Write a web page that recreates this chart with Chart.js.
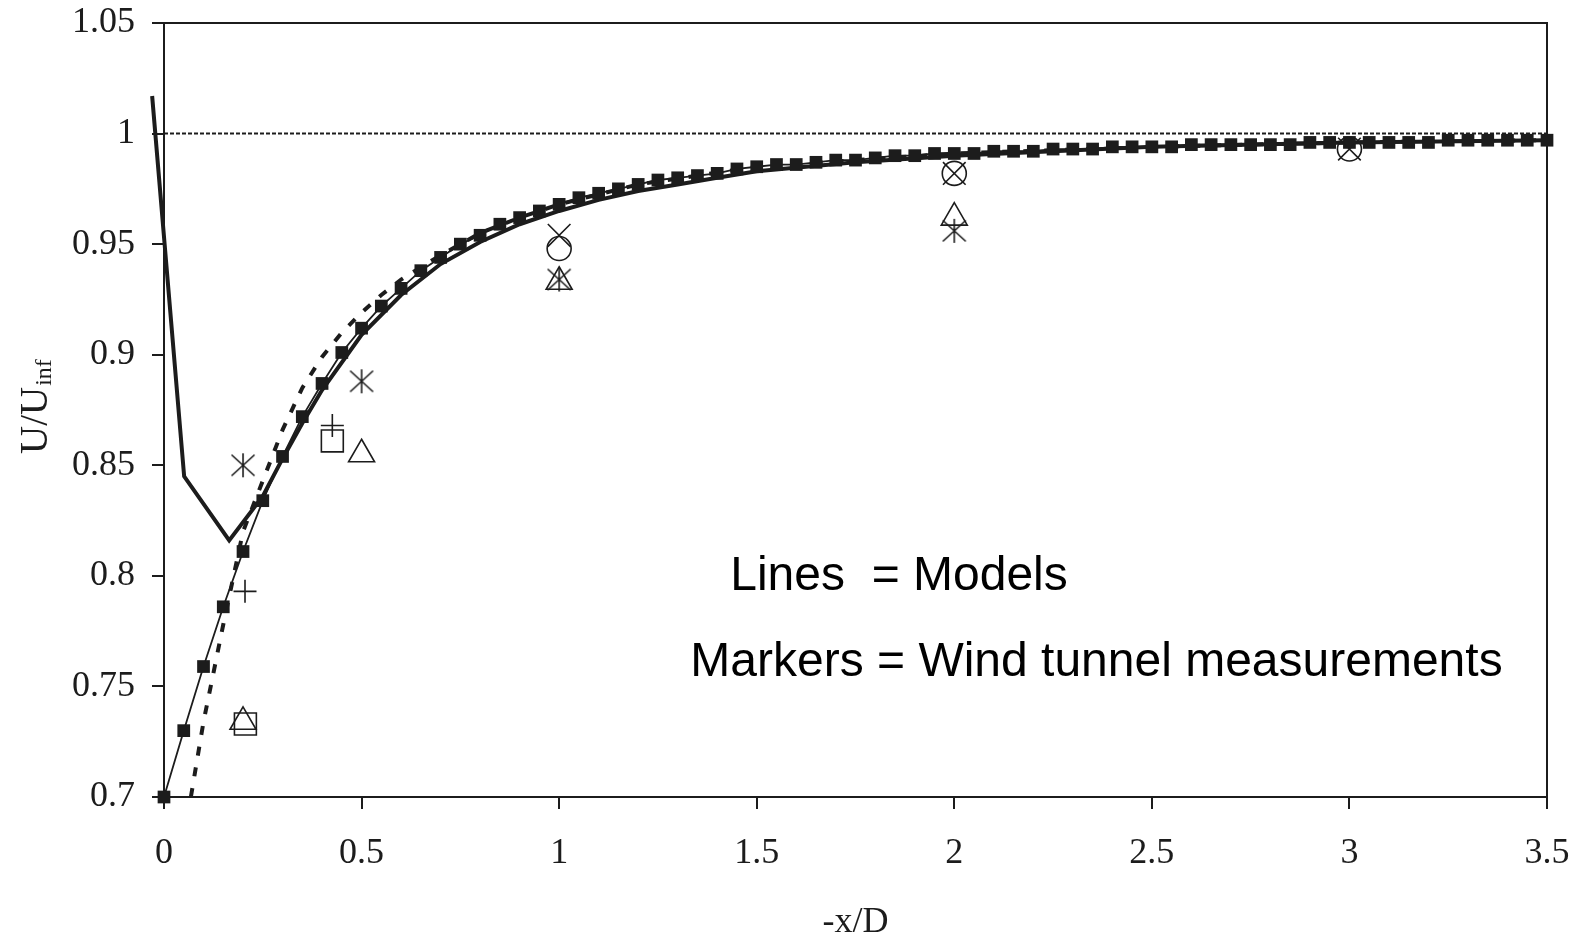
<!DOCTYPE html>
<html>
<head>
<meta charset="utf-8">
<script src="https://cdn.jsdelivr.net/npm/chart.js@4/dist/chart.umd.min.js"></script>
<style>
  html, body { margin: 0; padding: 0; background: #ffffff; }
  #wrap { width: 1579px; height: 938px; }
</style>
</head>
<body>
<div id="wrap"><canvas id="chart" width="1579" height="938"></canvas></div>
<script>
// Axis ticks
const xTickValues = [0, 0.5, 1, 1.5, 2, 2.5, 3, 3.5];
const xTickLabels = ['0', '0.5', '1', '1.5', '2', '2.5', '3', '3.5'];
const yTickValues = [0.7, 0.75, 0.8, 0.85, 0.9, 0.95, 1, 1.05];
const yTickLabels = ['0.7', '0.75', '0.8', '0.85', '0.9', '0.95', '1', '1.05'];

// Free-stream reference level
const refX = [0, 3.5];
const refY = [1, 1];

// Model with square markers (stations every 0.05 D)
const squareX = [0, 0.05, 0.1, 0.15, 0.2, 0.25, 0.3, 0.35, 0.4, 0.45, 0.5, 0.55, 0.6, 0.65, 0.7, 0.75,
  0.8, 0.85, 0.9, 0.95, 1, 1.05, 1.1, 1.15, 1.2, 1.25, 1.3, 1.35, 1.4, 1.45, 1.5, 1.55, 1.6, 1.65,
  1.7, 1.75, 1.8, 1.85, 1.9, 1.95, 2, 2.05, 2.1, 2.15, 2.2, 2.25, 2.3, 2.35, 2.4, 2.45, 2.5, 2.55,
  2.6, 2.65, 2.7, 2.75, 2.8, 2.85, 2.9, 2.95, 3, 3.05, 3.1, 3.15, 3.2, 3.25, 3.3, 3.35, 3.4, 3.45, 3.5];
const squareY = [0.700, 0.730, 0.759, 0.786, 0.811, 0.834, 0.854, 0.872, 0.887, 0.901, 0.912, 0.922, 0.930,
  0.938, 0.944, 0.950, 0.954, 0.959, 0.962, 0.965, 0.968, 0.971, 0.973, 0.975, 0.977, 0.979, 0.980, 0.981,
  0.982, 0.984, 0.985, 0.986, 0.986, 0.987, 0.988, 0.988, 0.989, 0.990, 0.990, 0.991, 0.991, 0.991, 0.992,
  0.992, 0.992, 0.993, 0.993, 0.993, 0.994, 0.994, 0.994, 0.994, 0.995, 0.995, 0.995, 0.995, 0.995, 0.995,
  0.996, 0.996, 0.996, 0.996, 0.996, 0.996, 0.996, 0.997, 0.997, 0.997, 0.997, 0.997, 0.997];

// Model drawn as a thick solid line (dips near the rotor)
const solidX = [-0.03, 0.051, 0.165, 0.25, 0.3, 0.35, 0.4, 0.5, 0.6, 0.7, 0.8, 0.9, 1, 1.1, 1.2, 1.3, 1.4,
  1.5, 1.75, 2, 2.5, 3, 3.5];
const solidY = [1.017, 0.845, 0.816, 0.836, 0.853, 0.869, 0.884, 0.909, 0.927, 0.941, 0.951, 0.959, 0.965,
  0.970, 0.974, 0.977, 0.980, 0.983, 0.987, 0.990, 0.994, 0.996, 0.997];

// Model drawn as a thick dashed line
const dashX = [0.068, 0.1, 0.15, 0.2, 0.25, 0.3, 0.35, 0.4, 0.45, 0.5, 0.55, 0.6, 0.7, 0.8, 0.9, 1, 1.2,
  1.5, 2, 2.5, 3, 3.5];
const dashY = [0.700, 0.734, 0.778, 0.820, 0.843, 0.866, 0.885, 0.899, 0.910, 0.919, 0.927, 0.934, 0.945,
  0.955, 0.962, 0.968, 0.977, 0.985, 0.991, 0.994, 0.996, 0.997];

// Wind tunnel measurements
const asteriskX = [0.2, 0.5, 1, 2];
const asteriskY = [0.850, 0.888, 0.934, 0.956];
const triangleX = [0.2, 0.5, 1, 2];
const triangleY = [0.734, 0.855, 0.933, 0.962];
const openSquareX = [0.206, 0.426];
const openSquareY = [0.733, 0.861];
const plusX = [0.205, 0.426];
const plusY = [0.793, 0.868];
const circleX = [1, 2, 3];
const circleY = [0.948, 0.982, 0.993];
const crossX = [1, 2, 3];
const crossY = [0.954, 0.982, 0.993];

const INK = '#1c1c1c';

function pts(xs, ys) { return xs.map((x, i) => ({ x: x, y: ys[i] })); }

// Six-armed asterisk marker
function asteriskMarker() {
  const c = document.createElement('canvas');
  c.width = 28; c.height = 28;
  const g = c.getContext('2d');
  g.strokeStyle = INK; g.lineWidth = 1.6; g.lineCap = 'butt';
  g.beginPath();
  g.moveTo(14, 2); g.lineTo(14, 26);
  g.moveTo(2.5, 3.5); g.lineTo(25.5, 24.5);
  g.moveTo(25.5, 3.5); g.lineTo(2.5, 24.5);
  g.stroke();
  return c;
}

// Closes the plot box on the top and right sides
const frame = {
  id: 'frame',
  afterDatasetsDraw(chart) {
    const { ctx, chartArea: a } = chart;
    ctx.save();
    ctx.strokeStyle = INK;
    ctx.lineWidth = 2;
    ctx.beginPath();
    ctx.moveTo(a.left, a.top); ctx.lineTo(a.right, a.top); ctx.lineTo(a.right, a.bottom);
    ctx.stroke();
    ctx.restore();
  }
};

// Vertical axis title with subscript
const yTitle = {
  id: 'yTitle',
  afterDraw(chart) {
    const { ctx, chartArea: a } = chart;
    ctx.save();
    ctx.fillStyle = INK;
    ctx.translate(47, (a.top + a.bottom) / 2 + 44);
    ctx.rotate(-Math.PI / 2);
    ctx.textBaseline = 'alphabetic';
    ctx.textAlign = 'left';
    ctx.font = '39px "Liberation Serif", "Times New Roman", serif';
    ctx.fillText('U/U', 0, 0);
    const w = ctx.measureText('U/U').width;
    ctx.font = '24px "Liberation Serif", "Times New Roman", serif';
    ctx.fillText('inf', w + 1, 4);
    ctx.restore();
  }
};

// Explanatory note inside the plot
const notes = {
  id: 'notes',
  afterDraw(chart) {
    const { ctx } = chart;
    const xs = chart.scales.x, ys = chart.scales.y;
    ctx.save();
    ctx.fillStyle = '#000';
    ctx.font = '48px "Liberation Sans", Arial, sans-serif';
    ctx.textBaseline = 'alphabetic';
    ctx.textAlign = 'left';
    ctx.fillText('Lines  = Models', xs.getPixelForValue(1.433), ys.getPixelForValue(0.7935));
    ctx.fillText('Markers = Wind tunnel measurements', xs.getPixelForValue(1.332), ys.getPixelForValue(0.7545));
    ctx.restore();
  }
};

function noOverhang(s) {
  s.paddingTop = 0; s.paddingBottom = 0; s.paddingLeft = 0; s.paddingRight = 0;
}

const tickFont = { family: '"Liberation Serif", "Times New Roman", serif', size: 36 };

new Chart(document.getElementById('chart'), {
  type: 'scatter',
  data: {
    datasets: [
      { label: 'Asterisk', data: pts(asteriskX, asteriskY), showLine: false, pointStyle: asteriskMarker(),
        pointRadius: 14, order: 1 },
      { label: 'Triangle', data: pts(triangleX, triangleY), showLine: false, pointStyle: 'triangle',
        pointRadius: 15, borderColor: INK, backgroundColor: 'rgba(0,0,0,0)', borderWidth: 1.6, order: 1 },
      { label: 'Open square', data: pts(openSquareX, openSquareY), showLine: false, pointStyle: 'rect',
        pointRadius: 15.5, borderColor: INK, backgroundColor: 'rgba(0,0,0,0)', borderWidth: 1.6, order: 1 },
      { label: 'Plus', data: pts(plusX, plusY), showLine: false, pointStyle: 'cross',
        pointRadius: 11.5, borderColor: INK, borderWidth: 1.6, order: 1 },
      { label: 'Circle', data: pts(circleX, circleY), showLine: false, pointStyle: 'circle',
        pointRadius: 12, borderColor: INK, backgroundColor: 'rgba(0,0,0,0)', borderWidth: 1.6, order: 1 },
      { label: 'Cross', data: pts(crossX, crossY), showLine: false, pointStyle: 'crossRot',
        pointRadius: 16, borderColor: INK, borderWidth: 1.6, order: 1 },
      { label: 'Model (squares)', data: pts(squareX, squareY), showLine: true, borderColor: INK,
        borderWidth: 1.8, pointStyle: 'rect', pointRadius: 9, pointBackgroundColor: INK,
        pointBorderColor: INK, pointBorderWidth: 0, clip: false, order: 2 },
      { label: 'Model (dashed)', data: pts(dashX, dashY), showLine: true, borderColor: INK,
        borderWidth: 4, borderDash: [9, 12], pointRadius: 0, order: 3 },
      { label: 'Model (solid)', data: pts(solidX, solidY), showLine: true, borderColor: INK,
        borderWidth: 4, pointRadius: 0, clip: false, borderJoinStyle: 'miter', order: 4 },
      { label: 'Free stream', data: pts(refX, refY), showLine: true, borderColor: INK,
        borderWidth: 2, borderDash: [4, 2], pointRadius: 0, order: 5 }
    ]
  },
  options: {
    responsive: false,
    animation: false,
    devicePixelRatio: 1,
    layout: { padding: { top: 23, right: 32, left: 0, bottom: 0 } },
    plugins: { legend: { display: false }, tooltip: { enabled: false } },
    scales: {
      x: {
        type: 'linear', min: 0, max: 3.5,
        afterBuildTicks(s) { s.ticks = xTickValues.map(v => ({ value: v })); },
        afterFit(s) { s.height = 141; noOverhang(s); },
        ticks: { callback: (v, i) => xTickLabels[i], font: tickFont, color: INK, padding: 23,
          maxRotation: 0, autoSkip: false },
        grid: { drawOnChartArea: false, drawTicks: true, tickLength: 12, color: INK, lineWidth: 2 },
        border: { display: true, color: INK, width: 2 },
        title: { display: true, text: '-x/D', color: INK,
          font: { family: '"Liberation Serif", "Times New Roman", serif', size: 36, lineHeight: 0.85 },
          padding: { top: 0, bottom: 0 } }
      },
      y: {
        type: 'linear', min: 0.7, max: 1.05,
        afterBuildTicks(s) { s.ticks = yTickValues.map(v => ({ value: v })); },
        afterFit(s) { s.width = 164; noOverhang(s); },
        ticks: { callback: (v, i) => yTickLabels[i], font: tickFont, color: INK, padding: 17,
          autoSkip: false },
        grid: { drawOnChartArea: false, drawTicks: true, tickLength: 12, color: INK, lineWidth: 2 },
        border: { display: true, color: INK, width: 2 }
      }
    }
  },
  plugins: [frame, yTitle, notes]
});
</script>
</body>
</html>
